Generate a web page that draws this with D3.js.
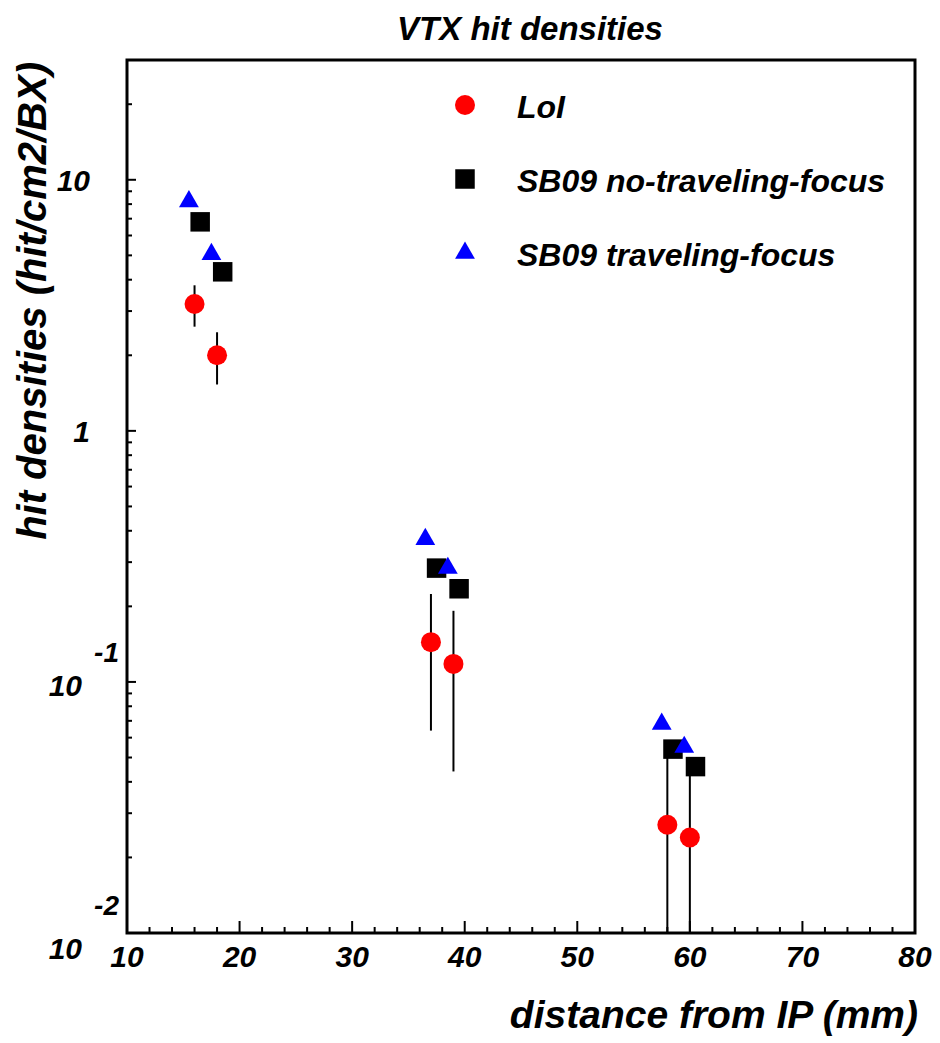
<!DOCTYPE html>
<html>
<head>
<meta charset="utf-8">
<script src="https://cdn.jsdelivr.net/npm/d3@7"></script>
<style>
  body { margin: 0; background: #fff; }
  text { font-family: "Liberation Sans", Arial, Helvetica, sans-serif; font-weight: bold; font-style: italic; }
</style>
</head>
<body>
<div id="chart"></div>
<script>
// distances (mm) and hit densities (hit/cm2/BX)
const xLoI = [16, 18, 37, 39, 58, 60];
const yLoI = [3.2, 2.0, 0.144, 0.118, 0.027, 0.024];
const errLoI = [0.6, 0.47, 0.08, 0.074, 0.026, 0.02];

const xNoTF = [16.5, 18.5, 37.5, 39.5, 58.5, 60.5];
const yNoTF = [6.8, 4.3, 0.284, 0.235, 0.054, 0.046];

const xTF = [15.5, 17.5, 36.5, 38.5, 57.5, 59.5];
const yTF = [8.2, 5.05, 0.37, 0.284, 0.068, 0.055];

const xTicks = [10, 20, 30, 40, 50, 60, 70, 80];
const yTicks = [10, 1, 0.1, 0.01];
const yTickLabels = [["10", ""], ["1", ""], ["10", "-1"], ["10", "-2"]];
const legendLabels = ["LoI", "SB09 no-traveling-focus", "SB09 traveling-focus"];

const width = 940;
const height = 1043;
const margin = { top: 60, right: 25, bottom: 110, left: 127 };

const svg = d3.select("#chart")
    .append("svg")
    .attr("width", width)
    .attr("height", height);

const x = d3.scaleLinear()
    .domain([10, 80])
    .range([margin.left, width - margin.right]);

const y = d3.scaleLog()
    .domain([0.01, 30])
    .range([height - margin.bottom, margin.top]);

// clip for error bars
svg.append("clipPath")
    .attr("id", "plotclip")
    .append("rect")
    .attr("x", margin.left)
    .attr("y", margin.top)
    .attr("width", x.range()[1] - margin.left)
    .attr("height", y.range()[0] - margin.top);

// title
svg.append("text")
    .attr("x", 530)
    .attr("y", 40)
    .attr("text-anchor", "middle")
    .style("font-size", "33px")
    .text("VTX hit densities");

// x ticks (inside)
const xMinor = d3.range(12, 80, 2).filter(v => v % 10 !== 0);
svg.append("g")
    .selectAll("line.xminor")
    .data(xMinor)
    .enter()
    .append("line")
    .attr("x1", d => x(d)).attr("x2", d => x(d))
    .attr("y1", y(0.01)).attr("y2", y(0.01) - 6)
    .attr("stroke", "#000").attr("stroke-width", 2);

svg.append("g")
    .selectAll("line.xmajor")
    .data(xTicks)
    .enter()
    .append("line")
    .attr("x1", d => x(d)).attr("x2", d => x(d))
    .attr("y1", y(0.01)).attr("y2", y(0.01) - 12)
    .attr("stroke", "#000").attr("stroke-width", 2);

svg.append("g")
    .selectAll("text")
    .data(xTicks)
    .enter()
    .append("text")
    .attr("x", d => x(d))
    .attr("y", y(0.01) + 34)
    .attr("text-anchor", "middle")
    .style("font-size", "30px")
    .text(d => d);

// y ticks (inside)
const yMinor = [];
[0.01, 0.1, 1, 10].forEach(dec => {
    for (let k = 2; k <= 9; k++) {
        const v = dec * k;
        if (v <= 30) yMinor.push(v);
    }
});

svg.append("g")
    .selectAll("line")
    .data(yMinor)
    .enter()
    .append("line")
    .attr("x1", x(10)).attr("x2", x(10) + 5)
    .attr("y1", d => y(d)).attr("y2", d => y(d))
    .attr("stroke", "#000").attr("stroke-width", 2);

svg.append("g")
    .selectAll("line")
    .data(yTicks)
    .enter()
    .append("line")
    .attr("x1", x(10)).attr("x2", x(10) + 9)
    .attr("y1", d => y(d)).attr("y2", d => y(d))
    .attr("stroke", "#000").attr("stroke-width", 2);

const yLab = svg.append("g")
    .selectAll("g")
    .data(yTicks.map((v, i) => ({ v, base: yTickLabels[i][0], exp: yTickLabels[i][1] })))
    .enter()
    .append("g");

yLab.append("text")
    .attr("x", d => d.exp ? 82 : 90)
    .attr("y", d => y(d.v) + (d.exp ? (d.v === 0.01 ? 26 : 14) : 11))
    .attr("text-anchor", "end")
    .style("font-size", "30px")
    .text(d => d.base);

yLab.filter(d => d.exp)
    .append("text")
    .attr("x", 119)
    .attr("y", d => y(d.v) - (d.v === 0.01 ? 18 : 20))
    .attr("text-anchor", "end")
    .style("font-size", "28px")
    .text(d => d.exp);

// frame
svg.append("rect")
    .attr("x", margin.left)
    .attr("y", margin.top)
    .attr("width", x.range()[1] - margin.left)
    .attr("height", y.range()[0] - margin.top)
    .attr("fill", "none")
    .attr("stroke", "#000")
    .attr("stroke-width", 3);

// axis titles
svg.append("text")
    .attr("x", 918)
    .attr("y", 1028)
    .attr("text-anchor", "end")
    .style("font-size", "39px")
    .text("distance from IP (mm)");

svg.append("text")
    .attr("transform", "translate(46, 62) rotate(-90)")
    .attr("text-anchor", "end")
    .style("font-size", "40px")
    .text("hit densities (hit/cm2/BX)");

// data
const loi = xLoI.map((d, i) => ({ x: d, y: yLoI[i], e: errLoI[i] }));
const noTF = xNoTF.map((d, i) => ({ x: d, y: yNoTF[i] }));
const tf = xTF.map((d, i) => ({ x: d, y: yTF[i] }));

const plot = svg.append("g");

plot.append("g")
    .attr("clip-path", "url(#plotclip)")
    .selectAll("line")
    .data(loi)
    .enter()
    .append("line")
    .attr("x1", d => x(d.x)).attr("x2", d => x(d.x))
    .attr("y1", d => y(d.y + d.e))
    .attr("y2", d => y(Math.max(d.y - d.e, 0.001)))
    .attr("stroke", "#000")
    .attr("stroke-width", 2);

const circle = d3.symbol().type(d3.symbolCircle).size(Math.PI * 100);
const square = d3.symbol().type(d3.symbolSquare).size(380);
const triangle = d3.symbol().type(d3.symbolTriangle).size(170);

plot.append("g")
    .selectAll("path")
    .data(loi)
    .enter()
    .append("path")
    .attr("d", circle)
    .attr("transform", d => `translate(${x(d.x)},${y(d.y)})`)
    .attr("fill", "#ff0000");

plot.append("g")
    .selectAll("path")
    .data(noTF)
    .enter()
    .append("path")
    .attr("d", square)
    .attr("transform", d => `translate(${x(d.x)},${y(d.y)})`)
    .attr("fill", "#000");

plot.append("g")
    .selectAll("path")
    .data(tf)
    .enter()
    .append("path")
    .attr("d", triangle)
    .attr("transform", d => `translate(${x(d.x)},${y(d.y)})`)
    .attr("fill", "#0000ff");

// legend
const legendSymbols = [circle, square, triangle];
const legendColors = ["#ff0000", "#000", "#0000ff"];

const legend = svg.append("g")
    .attr("transform", "translate(465, 105)");

const items = legend.selectAll("g")
    .data(legendLabels)
    .enter()
    .append("g")
    .attr("transform", (d, i) => `translate(0, ${i * 74})`);

items.append("path")
    .attr("d", (d, i) => legendSymbols[i]())
    .attr("fill", (d, i) => legendColors[i]);

items.append("text")
    .attr("x", 52)
    .attr("y", 13)
    .style("font-size", "32px")
    .text(d => d);
</script>
</body>
</html>
